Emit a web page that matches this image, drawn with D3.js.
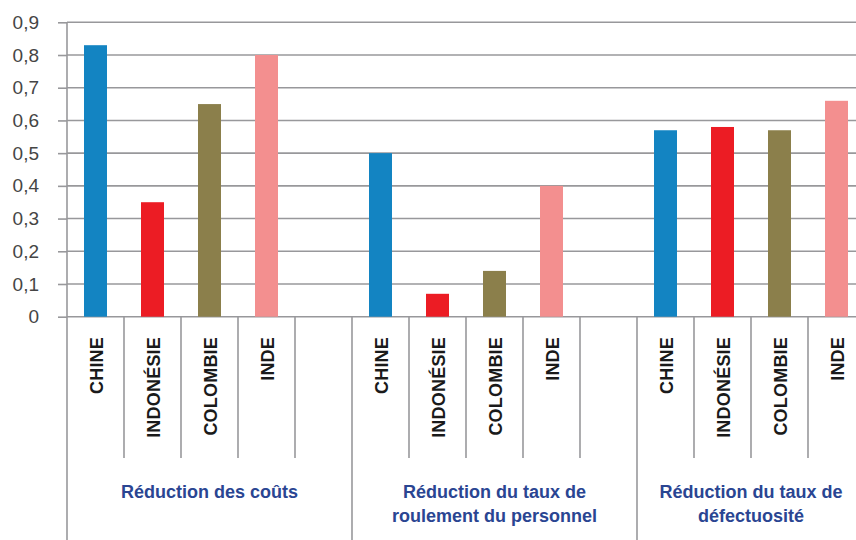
<!DOCTYPE html>
<html lang="fr">
<head>
<meta charset="utf-8">
<title>Réductions par pays</title>
<style>
body{
  margin: 0;
  background: #fff;
}
.grid line{
  stroke: #98989b;
  stroke-width: 1.6;
}
.axis path{ display: none; }
.axis line{
  stroke: #98989b;
  stroke-width: 1.6;
}
.axis text{
  font: 19px "Liberation Sans", Arial, sans-serif;
  fill: #454545;
}
.cat{
  font: bold 18px "Liberation Sans", Arial, sans-serif;
  letter-spacing: 0.2px;
  fill: #1a1a1a;
}
.grp{
  font: bold 18px "Liberation Sans", Arial, sans-serif;
  fill: #2a4592;
}
.sep{
  stroke: #98989b;
  stroke-width: 1.6;
}
</style>
</head>
<body>
<div id="chart"></div>
<script src="https://cdn.jsdelivr.net/npm/d3@7"></script>
<script>
var countries = ["CHINE", "INDONÉSIE", "COLOMBIE", "INDE"];
var colors = ["#1384c2", "#ec1c24", "#8b7f4b", "#f38f8f"];
var groups = [
  ["Réduction des coûts"],
  ["Réduction du taux de", "roulement du personnel"],
  ["Réduction du taux de", "défectuosité"]
];
var coutsValues = [0.83, 0.35, 0.65, 0.80];
var roulementValues = [0.50, 0.07, 0.14, 0.40];
var defectValues = [0.57, 0.58, 0.57, 0.66];
var yTicks = [0, 0.1, 0.2, 0.3, 0.4, 0.5, 0.6, 0.7, 0.8, 0.9];

var allValues = [coutsValues, roulementValues, defectValues];

// slots: 4 countries + an empty spacer between groups
var slots = [];
groups.forEach((g, gi) => {
  countries.forEach((c, ci) => slots.push({ g: gi, c: ci, key: gi + "-" + ci, v: allValues[gi][ci] }));
  if (gi < groups.length - 1) slots.push({ g: gi, c: -1, key: gi + "-gap", v: null });
});

var svg = d3.select("#chart").append("svg")
  .attr("width", 856)
  .attr("height", 540);

var x0 = 67, slotW = 57;
var x = d3.scaleBand()
  .domain(slots.map((d) => d.key))
  .range([x0, x0 + slots.length * slotW])
  .padding(0);
var y = d3.scaleLinear()
  .domain([0, 0.9])
  .range([316.7, 22.3]);

// grid
svg.append("g").attr("class", "grid")
  .selectAll("line").data(yTicks)
  .enter().append("line")
  .attr("x1", x0).attr("x2", 856)
  .attr("y1", (d) => y(d)).attr("y2", (d) => y(d));

var fmt = (d) => d === 0 ? "0" : d.toFixed(1).replace(".", ",");
svg.append("g").attr("class", "axis")
  .attr("transform", `translate(${x0},0)`)
  .call(d3.axisLeft(y).tickValues(yTicks).tickSize(9).tickPadding(19).tickFormat(fmt));

// bars
var barW = 23;
svg.selectAll("rect.bar").data(slots.filter((d) => d.v !== null))
  .enter().append("rect")
  .attr("class", "bar")
  .attr("x", (d) => x(d.key) + x.bandwidth() / 2 - barW / 2)
  .attr("width", barW)
  .attr("y", (d) => y(d.v))
  .attr("height", (d) => y(0) - y(d.v))
  .attr("fill", (d) => colors[d.c]);

// left axis line down to bottom
svg.append("line").attr("class", "sep")
  .attr("x1", x0).attr("x2", x0)
  .attr("y1", y(0.9)).attr("y2", 540);

// separators
slots.forEach((d, i) => {
  var xr = x(d.key) + x.bandwidth();
  var next = slots[i + 1];
  var groupEnd = !next || next.g !== d.g;
  svg.append("line").attr("class", "sep")
    .attr("x1", xr).attr("x2", xr)
    .attr("y1", y(0)).attr("y2", groupEnd ? 540 : 458);
});

// country labels
svg.selectAll("text.cat").data(slots.filter((d) => d.c >= 0))
  .enter().append("text")
  .attr("class", "cat")
  .attr("text-anchor", "end")
  .attr("transform", (d) => `translate(${x(d.key) + x.bandwidth() / 2 + 7},337) rotate(-90)`)
  .text((d) => countries[d.c]);

// group labels
groups.forEach((g, gi) => {
  var s = slots.filter((d) => d.g === gi);
  var a = x(s[0].key), b = x(s[s.length - 1].key) + x.bandwidth();
  var t = svg.append("text").attr("class", "grp")
    .attr("text-anchor", "middle")
    .attr("x", (a + b) / 2)
    .attr("y", 498);
  g.forEach((line, li) => {
    t.append("tspan").attr("x", (a + b) / 2).attr("dy", li === 0 ? 0 : 24).text(line);
  });
});
</script>
</body>
</html>
